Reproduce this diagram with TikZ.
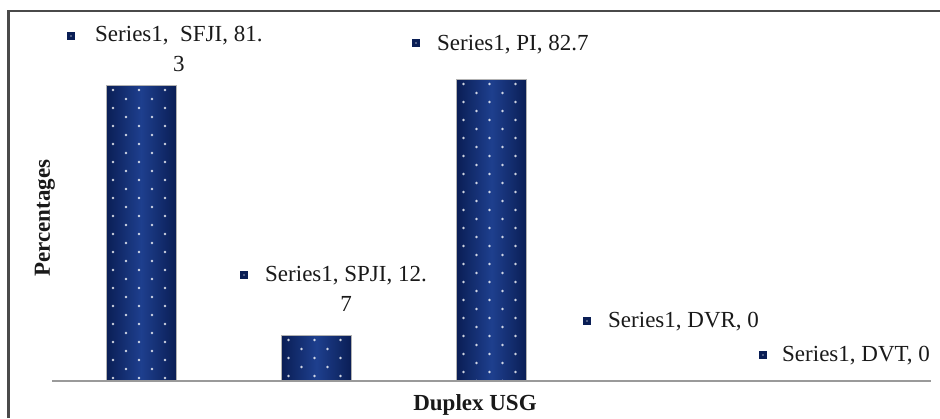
\documentclass[tikz,border=0pt]{standalone}
\usepackage{fontspec}
\setmainfont{Liberation Serif}
\usetikzlibrary{calc}
\definecolor{navy}{HTML}{0A1E55}
\definecolor{navymid}{HTML}{1E3F8E}
\definecolor{framegray}{HTML}{4A4A4A}
\definecolor{axisgray}{HTML}{9A9A9A}
\begin{document}
\begin{tikzpicture}[x=1pt,y=-1pt,
  bar/.style={anchor=south, minimum width=70pt, minimum height=#1, inner sep=0pt, outer sep=0pt,
    left color=navy, right color=navy, middle color=navymid, draw=gray!60, line width=0.5pt,
    path picture={\foreach \rr in {0,...,34}{\foreach \cc in {0,...,3}{
      \fill[white, opacity=0.8] ($(path picture bounding box.north west)+({7+\cc*26+mod(\rr,2)*13},{5+\rr*9})$) circle (1.4pt);}}}},
  sq/.style={fill=navy, minimum size=8.5pt, inner sep=0pt,
    path picture={\fill[white!60!navy] (path picture bounding box.center) circle (0.9pt);}},
  lbl/.style={anchor=north west, inner sep=0pt, align=center, font=\fontsize{23}{30}\selectfont, text=black!90},
  axlbl/.style={inner sep=0pt, font=\bfseries\fontsize{23}{28}\selectfont, text=black!90}
]
\useasboundingbox (0,0) rectangle (940,418);
% frame
\coordinate (fbl) at (8.7,418);
\coordinate (ftl) at (8.7,11);
\coordinate (ftr) at (940,11);
\draw[framegray, line width=2.8pt] (fbl) -- (ftl) -- (ftr);
% bars
\node[bar=296pt] (sfji) at (141,381) {};
\node[bar=46pt] (spji) at (316.5,381) {};
\node[bar=302pt] (pi) at (491.5,381) {};
% axis
\coordinate (axl) at (52,381);
\coordinate (axr) at (931,381);
\draw[axisgray, line width=2.5pt] (axl) -- (axr);
% data labels
\node[sq] (m1) at (71,36) {};
\node[lbl] (t1) at (95,26.4) {Series1,\ \ SFJI, 81.\\3};
\node[sq] (m2) at (244,275) {};
\node[lbl] (t2) at (265,266.4) {Series1, SPJI, 12.\\7};
\node[sq] (m3) at (416,43) {};
\node[lbl] (t3) at (437,34.9) {Series1, PI, 82.7};
\node[sq] (m4) at (587,321) {};
\node[lbl] (t4) at (608,312.4) {Series1, DVR, 0};
\node[sq] (m5) at (763,355) {};
\node[lbl] (t5) at (782,346.4) {Series1, DVT, 0};
% axis titles
\node[axlbl, rotate=90] (ytitle) at (45,218) {Percentages};
\node[axlbl, anchor=base] (xtitle) at (475,410) {Duplex USG};
\end{tikzpicture}
\end{document}
